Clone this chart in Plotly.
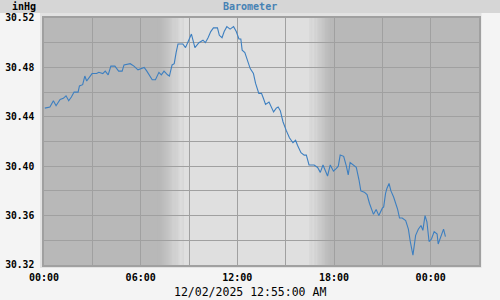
import plotly.graph_objects as go

# ---- data ----
times = [
    "2025-12-01 00:03", "2025-12-01 00:22", "2025-12-01 00:35", "2025-12-01 00:45", "2025-12-01 01:00",
    "2025-12-01 01:12", "2025-12-01 01:22", "2025-12-01 01:32", "2025-12-01 01:42", "2025-12-01 01:52",
    "2025-12-01 02:07", "2025-12-01 02:12", "2025-12-01 02:24", "2025-12-01 02:32", "2025-12-01 02:39",
    "2025-12-01 02:51", "2025-12-01 02:59", "2025-12-01 03:16", "2025-12-01 03:24", "2025-12-01 03:39",
    "2025-12-01 03:48", "2025-12-01 03:59", "2025-12-01 04:09", "2025-12-01 04:24", "2025-12-01 04:38",
    "2025-12-01 04:51", "2025-12-01 04:58", "2025-12-01 05:21", "2025-12-01 05:35", "2025-12-01 05:50",
    "2025-12-01 06:05", "2025-12-01 06:13", "2025-12-01 06:23", "2025-12-01 06:43", "2025-12-01 06:55",
    "2025-12-01 07:08", "2025-12-01 07:17", "2025-12-01 07:27", "2025-12-01 07:40", "2025-12-01 07:47",
    "2025-12-01 07:57", "2025-12-01 08:05", "2025-12-01 08:12", "2025-12-01 08:19", "2025-12-01 08:37",
    "2025-12-01 08:47", "2025-12-01 08:57", "2025-12-01 09:09", "2025-12-01 09:22", "2025-12-01 09:37",
    "2025-12-01 09:52", "2025-12-01 10:01", "2025-12-01 10:11", "2025-12-01 10:21", "2025-12-01 10:31",
    "2025-12-01 10:46", "2025-12-01 10:53", "2025-12-01 11:03", "2025-12-01 11:11", "2025-12-01 11:21",
    "2025-12-01 11:33", "2025-12-01 11:46", "2025-12-01 11:56", "2025-12-01 12:06", "2025-12-01 12:13",
    "2025-12-01 12:18", "2025-12-01 12:28", "2025-12-01 12:36", "2025-12-01 12:48", "2025-12-01 13:00",
    "2025-12-01 13:08", "2025-12-01 13:20", "2025-12-01 13:30", "2025-12-01 13:37", "2025-12-01 13:45",
    "2025-12-01 13:58", "2025-12-01 14:07", "2025-12-01 14:15", "2025-12-01 14:25", "2025-12-01 14:32",
    "2025-12-01 14:40", "2025-12-01 14:50", "2025-12-01 15:02", "2025-12-01 15:14", "2025-12-01 15:27",
    "2025-12-01 15:37", "2025-12-01 15:44", "2025-12-01 15:57", "2025-12-01 16:09", "2025-12-01 16:17",
    "2025-12-01 16:27", "2025-12-01 16:36", "2025-12-01 16:46", "2025-12-01 16:59", "2025-12-01 17:09",
    "2025-12-01 17:19", "2025-12-01 17:28", "2025-12-01 17:36", "2025-12-01 17:46", "2025-12-01 17:58",
    "2025-12-01 18:08", "2025-12-01 18:16", "2025-12-01 18:23", "2025-12-01 18:36", "2025-12-01 18:46",
    "2025-12-01 18:53", "2025-12-01 19:00", "2025-12-01 19:11", "2025-12-01 19:23", "2025-12-01 19:33",
    "2025-12-01 19:40", "2025-12-01 19:53", "2025-12-01 20:03", "2025-12-01 20:12", "2025-12-01 20:22",
    "2025-12-01 20:27", "2025-12-01 20:37", "2025-12-01 20:47", "2025-12-01 21:00", "2025-12-01 21:05",
    "2025-12-01 21:12", "2025-12-01 21:17", "2025-12-01 21:25", "2025-12-01 21:32", "2025-12-01 21:42",
    "2025-12-01 21:49", "2025-12-01 21:57", "2025-12-01 22:04", "2025-12-01 22:14", "2025-12-01 22:27",
    "2025-12-01 22:37", "2025-12-01 22:44", "2025-12-01 22:54", "2025-12-01 23:04", "2025-12-01 23:14",
    "2025-12-01 23:24", "2025-12-01 23:31", "2025-12-01 23:39", "2025-12-01 23:46", "2025-12-01 23:54",
    "2025-12-02 00:03", "2025-12-02 00:13", "2025-12-02 00:24", "2025-12-02 00:28", "2025-12-02 00:38",
    "2025-12-02 00:48", "2025-12-02 00:55",
]
pressure = [
    30.447, 30.448, 30.453, 30.449, 30.454,
    30.455, 30.457, 30.453, 30.456, 30.460,
    30.460, 30.465, 30.466, 30.473, 30.469,
    30.473, 30.475, 30.475, 30.476, 30.475,
    30.477, 30.474, 30.481, 30.481, 30.477,
    30.477, 30.482, 30.483, 30.481, 30.478,
    30.479, 30.480, 30.477, 30.470, 30.470,
    30.476, 30.474, 30.477, 30.474, 30.473,
    30.482, 30.483, 30.492, 30.499, 30.499,
    30.496, 30.501, 30.507, 30.496, 30.500,
    30.502, 30.500, 30.504, 30.509, 30.512,
    30.512, 30.506, 30.504, 30.509, 30.513,
    30.511, 30.513, 30.509, 30.503, 30.503,
    30.494, 30.492, 30.486, 30.479, 30.475,
    30.467, 30.459, 30.459, 30.455, 30.450,
    30.452, 30.448, 30.444, 30.447, 30.448,
    30.445, 30.436, 30.429, 30.423, 30.419,
    30.421, 30.417, 30.411, 30.409, 30.409,
    30.401, 30.401, 30.401, 30.399, 30.395,
    30.401, 30.396, 30.392, 30.401, 30.396,
    30.398, 30.400, 30.409, 30.408, 30.400,
    30.393, 30.403, 30.401, 30.399, 30.389,
    30.380, 30.379, 30.377, 30.370, 30.365,
    30.361, 30.365, 30.360, 30.366, 30.367,
    30.378, 30.382, 30.386, 30.380, 30.375,
    30.371, 30.365, 30.358, 30.358, 30.356,
    30.349, 30.339, 30.328, 30.344, 30.349,
    30.352, 30.348, 30.360, 30.355, 30.339,
    30.341, 30.347, 30.345, 30.337, 30.344,
    30.349, 30.343,
]
x_ticks_major = ["2025-12-01 00:00", "2025-12-01 06:00", "2025-12-01 12:00",
                 "2025-12-01 18:00", "2025-12-02 00:00"]
x_tick_text = ["00:00", "06:00", "12:00", "18:00", "00:00"]
y_ticks = [30.32, 30.36, 30.40, 30.44, 30.48, 30.52]
x_range = ["2025-12-01 00:00", "2025-12-02 03:00"]
y_range = [30.32, 30.52]
title_text = "Barometer"
unit_text = "inHg"
stamp_text = "12/02/2025 12:55:00 AM"

# sunrise / sunset transition windows (minutes after midnight)
sunrise_window = (7 * 60 + 0, 8 * 60 + 40)
sunset_window = (16 * 60 + 30, 17 * 60 + 58)

NIGHT = (184, 184, 184)
DAY = (223, 223, 223)
GRID = "#a0a0a0"

fig = go.Figure()
fig.add_trace(go.Scatter(x=times, y=pressure, mode="lines",
                         line=dict(color="#3d7fc0", width=1.1), hoverinfo="skip"))

def tstr(m):
    return "2025-12-01 %02d:%02d:%02d" % (m // 60, int(m) % 60, int(round((m - int(m)) * 60)) % 60)

def mix(f):
    c = [int(round(NIGHT[i] + (DAY[i] - NIGHT[i]) * f)) for i in range(3)]
    return "rgb(%d,%d,%d)" % tuple(c)

W, H = 500, 300
L, R, T, B = 44, 21, 18, 35
pw, ph = W - L - R, H - T - B
def px(x):
    return (x - L) / pw
def py(y):
    return (H - B - y) / ph

shapes = []
# frame and title band (paper)
shapes.append(dict(type="rect", xref="paper", yref="paper", x0=px(0), x1=px(W), y0=py(13), y1=py(0),
                   fillcolor="#d6d6d6", line_width=0, layer="below"))
shapes.append(dict(type="rect", xref="paper", yref="paper", x0=px(40), x1=px(481.5), y0=py(268), y1=py(13),
                   fillcolor="#e2e2e2", line_width=0, layer="below"))
# night background over the whole plot area
shapes.append(dict(type="rect", xref="x", yref="paper", x0=x_range[0], x1=x_range[1], y0=0, y1=1,
                   fillcolor=mix(0), line_width=0, layer="below"))
# full day band
shapes.append(dict(type="rect", xref="x", yref="paper", x0=tstr(sunrise_window[1]),
                   x1=tstr(sunset_window[0]), y0=0, y1=1, fillcolor=mix(1), line_width=0, layer="below"))
N = 30
for (a, b, rising) in [(sunrise_window[0], sunrise_window[1], True), (sunset_window[0], sunset_window[1], False)]:
    step = (b - a) / N
    for k in range(N):
        s = (k + 0.5) / N
        f = s * s * (3 - 2 * s)
        if not rising:
            f = 1 - f
        shapes.append(dict(type="rect", xref="x", yref="paper", x0=tstr(a + k * step),
                           x1=tstr(a + (k + 1) * step + 0.3), y0=0, y1=1,
                           fillcolor=mix(f), line_width=0, layer="below"))

fig.update_layout(
    width=W, height=H,
    margin=dict(l=L, r=R, t=T, b=B, pad=0),
    paper_bgcolor="#f4f4f4",
    plot_bgcolor="rgba(0,0,0,0)",
    showlegend=False,
    shapes=shapes,
    xaxis=dict(type="date", range=x_range, tickvals=x_ticks_major, ticktext=x_tick_text,
               showgrid=True, gridcolor=GRID, gridwidth=1.4,
               minor=dict(dtick=3 * 3600000, tick0="2025-12-01", showgrid=True, gridcolor=GRID, gridwidth=1.4),
               showline=True, linecolor=GRID, linewidth=1.5, mirror=True,
               ticks="", ticklabelstandoff=2, automargin=False,
               tickfont=dict(family="DejaVu Sans Mono", size=10, color="#000", weight="bold"),
               zeroline=False),
    yaxis=dict(range=y_range, tickvals=y_ticks, tickformat=".2f",
               showgrid=True, gridcolor=GRID, gridwidth=1.4,
               minor=dict(dtick=0.02, tick0=30.32, showgrid=True, gridcolor=GRID, gridwidth=1.4),
               showline=True, linecolor=GRID, linewidth=1.5, mirror=True,
               ticks="", ticklabelstandoff=6, automargin=False,
               tickfont=dict(family="DejaVu Sans Mono", size=9.7, color="#000", weight="bold"),
               zeroline=False),
    annotations=[
        dict(text=title_text, xref="paper", yref="paper", x=px(250), y=py(6.5), showarrow=False,
             xanchor="center", yanchor="middle",
             font=dict(family="DejaVu Sans Mono", size=10, color="#4682b4", weight="bold")),
        dict(text=unit_text, xref="paper", yref="paper", x=px(10), y=py(6.5), showarrow=False,
             xanchor="left", yanchor="middle",
             font=dict(family="DejaVu Sans Mono", size=10, color="#000", weight="bold")),
        dict(text=stamp_text, xref="paper", yref="paper", x=px(250), y=py(291.5), showarrow=False,
             xanchor="center", yanchor="middle",
             font=dict(family="DejaVu Sans Mono", size=11.5, color="#000")),
    ],
)

fig.write_html("out.html")
